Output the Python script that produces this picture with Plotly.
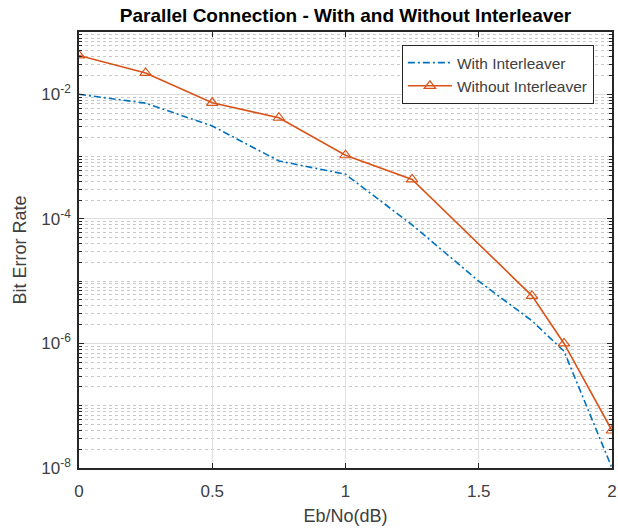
import plotly.graph_objects as go

ebno_with = [0, 0.25, 0.5, 0.75, 1.0, 1.25, 1.5, 1.7, 1.82, 2.0]
ber_with = [1.0e-2, 7.2e-3, 3.1e-3, 8.5e-4, 5.2e-4, 8.0e-5, 1.0e-5, 2.3e-6, 7.5e-7, 1.0e-8]

ebno_without = [0, 0.25, 0.5, 0.75, 1.0, 1.25, 1.7, 1.82, 2.0]
ber_without = [4.2e-2, 2.2e-2, 7.3e-3, 4.2e-3, 1.05e-3, 4.3e-4, 5.8e-6, 1.0e-6, 4.0e-8]

x_tick_vals = [0, 0.5, 1, 1.5, 2]
x_tick_text = ["0", "0.5", "1", "1.5", "2"]
y_major_vals = [1e-8, 1e-6, 1e-4, 1e-2]
y_major_text = ["10<sup>-8</sup>", "10<sup>-6</sup>", "10<sup>-4</sup>", "10<sup>-2</sup>"]
y_minor_vals = [m * 10.0 ** k for k in range(-8, -1) for m in range(1, 10)] + [1e-1]
y_minor_vals = [v for v in y_minor_vals if all(abs(v - t) / t > 1e-6 for t in y_major_vals)]

FONT = "Liberation Sans, Arial, sans-serif"
AX = "#262626"
TXT = "#404040"

fig = go.Figure()
fig.add_trace(go.Scatter(
    x=ebno_with, y=ber_with, mode="lines", name="With Interleaver",
    line=dict(color="#0072BD", width=1.6, dash="7px,3px,2px,3px"),
))
fig.add_trace(go.Scatter(
    x=ebno_without, y=ber_without, mode="lines+markers", name="Without Interleaver",
    line=dict(color="#D95319", width=1.6),
    marker=dict(symbol="triangle-up-open", size=10, color="#D95319", line=dict(width=1.2)),
))

fig.update_layout(
    width=618, height=529,
    margin=dict(l=79, r=6, t=32, b=61, autoexpand=False),
    paper_bgcolor="white", plot_bgcolor="white",
    font=dict(family=FONT, color=AX),
    title=dict(text="<b>Parallel Connection - With and Without Interleaver</b>",
               x=(79 + 612) / 2 / 618, xanchor="center", y=1 - 15 / 529, yanchor="middle",
               font=dict(size=19, color="black", family=FONT)),
    showlegend=True,
    legend=dict(x=0.966, xanchor="right", y=0.97, yanchor="top",
                bgcolor="white", bordercolor=AX, borderwidth=1,
                font=dict(size=15.5, color=TXT, family=FONT),
                tracegroupgap=0, itemwidth=44),
)
fig.update_xaxes(
    range=[0, 2], tickvals=x_tick_vals, ticktext=x_tick_text, automargin=False,
    showgrid=True, gridcolor="#e0e0e0", gridwidth=1,
    ticks="inside", ticklen=5, tickcolor=AX, tickwidth=1,
    showline=True, linecolor=AX, linewidth=1.5, mirror="allticks",
    zeroline=False, tickfont=dict(size=17, color=TXT), ticklabelstandoff=7,
    title=dict(text="Eb/No(dB)", font=dict(size=18, color=TXT), standoff=9),
)
fig.update_yaxes(
    type="log", range=[-8, -1], automargin=False,
    tickvals=y_major_vals, ticktext=y_major_text,
    showgrid=True, gridcolor="#dcdcdc", gridwidth=1,
    ticks="inside", ticklen=5, tickcolor=AX, tickwidth=1,
    showline=True, linecolor=AX, linewidth=1.5, mirror="allticks",
    zeroline=False, tickfont=dict(size=17, color=TXT), ticklabelstandoff=3,
    minor=dict(tickvals=y_minor_vals, showgrid=True, gridcolor="#c8c8c8",
               griddash="dot", gridwidth=1, ticks="inside", ticklen=3, tickcolor=AX),
    title=dict(text="Bit Error Rate", font=dict(size=18, color=TXT), standoff=10),
)
fig.write_html("out.html", config={"displayModeBar": False},
               post_script="document.body.style.margin='0';document.body.style.overflow='hidden';")
